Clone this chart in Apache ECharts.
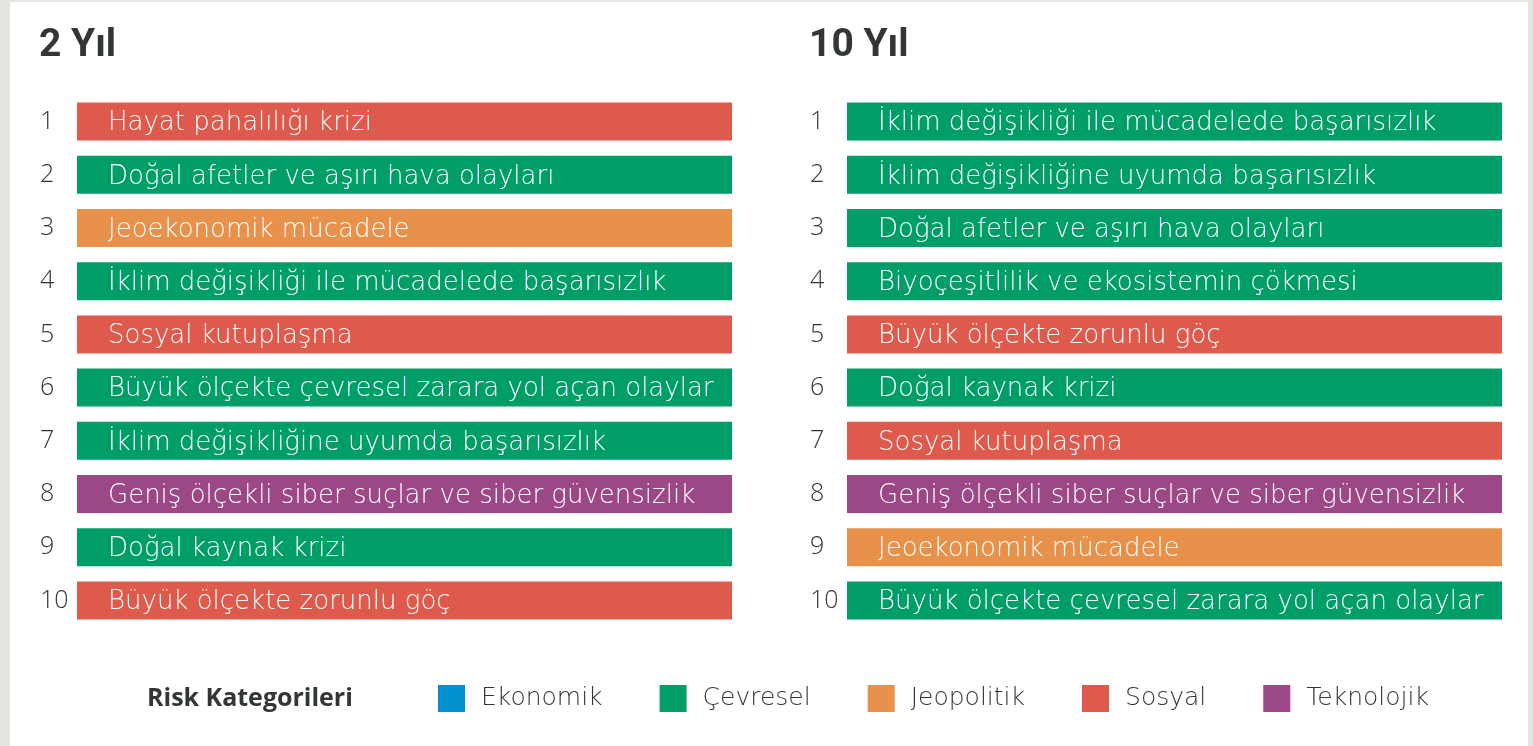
<!DOCTYPE html>
<html>
<head>
<meta charset="utf-8">
<script src="https://cdn.jsdelivr.net/npm/echarts@6/dist/echarts.min.js"></script>
<style>
  html, body { margin: 0; padding: 0; background: #e3e5e0; }
  #chart { width: 1533px; height: 746px; }
</style>
</head>
<body>
<div id="chart"></div>
<script>
const CATEGORIES = ['Ekonomik', 'Çevresel', 'Jeopolitik', 'Sosyal', 'Teknolojik'];
const CATEGORY_COLORS = ['#0090cd', '#009e67', '#e8914b', '#dd5a4c', '#9c4886'];

const RANKS = ['1', '2', '3', '4', '5', '6', '7', '8', '9', '10'];

const RISKS_2Y = [
  'Hayat pahalılığı krizi',
  'Doğal afetler ve aşırı hava olayları',
  'Jeoekonomik mücadele',
  'İklim değişikliği ile mücadelede başarısızlık',
  'Sosyal kutuplaşma',
  'Büyük ölçekte çevresel zarara yol açan olaylar',
  'İklim değişikliğine uyumda başarısızlık',
  'Geniş ölçekli siber suçlar ve siber güvensizlik',
  'Doğal kaynak krizi',
  'Büyük ölçekte zorunlu göç',
];
const CATS_2Y = ['Sosyal', 'Çevresel', 'Jeopolitik', 'Çevresel', 'Sosyal',
  'Çevresel', 'Çevresel', 'Teknolojik', 'Çevresel', 'Sosyal'];

const RISKS_10Y = [
  'İklim değişikliği ile mücadelede başarısızlık',
  'İklim değişikliğine uyumda başarısızlık',
  'Doğal afetler ve aşırı hava olayları',
  'Biyoçeşitlilik ve ekosistemin çökmesi',
  'Büyük ölçekte zorunlu göç',
  'Doğal kaynak krizi',
  'Sosyal kutuplaşma',
  'Geniş ölçekli siber suçlar ve siber güvensizlik',
  'Jeoekonomik mücadele',
  'Büyük ölçekte çevresel zarara yol açan olaylar',
];
const CATS_10Y = ['Çevresel', 'Çevresel', 'Çevresel', 'Çevresel', 'Sosyal',
  'Çevresel', 'Sosyal', 'Teknolojik', 'Jeopolitik', 'Çevresel'];

const FONT = '"Open Sans", sans-serif';
const BOLD_FONT = 'Roboto, sans-serif';
const LIGHT_FONT = '"DejaVu Sans", sans-serif';
const TEXT = '#333636';

const colorOf = (cat) => CATEGORY_COLORS[CATEGORIES.indexOf(cat)];

function rankSeries(idx, labels, cats) {
  return {
    type: 'bar',
    xAxisIndex: idx,
    yAxisIndex: idx,
    barWidth: 38,
    silent: true,
    data: cats.map(c => ({ value: 1, itemStyle: { color: colorOf(c) } })),
    label: {
      show: true,
      position: 'insideLeft',
      distance: 31,
      offset: [0, 2],
      color: '#fff',
      fontFamily: LIGHT_FONT,
      fontWeight: 200,
      fontSize: 26,
      formatter: p => labels[p.dataIndex],
    },
  };
}

const chart = echarts.init(document.getElementById('chart'));

const option = {
  animation: false,
  graphic: [{
    type: 'rect', z: -10,
    shape: { x: 10, y: 2, width: 1518, height: 746 },
    style: { fill: '#ffffff' },
  }],
  title: [
    { text: '2 Yıl', left: 39, top: 27, padding: 0, textStyle: { fontFamily: BOLD_FONT, fontSize: 39, fontWeight: 'bold', color: TEXT } },
    { text: '10 Yıl', left: 809, top: 27, padding: 0, textStyle: { fontFamily: BOLD_FONT, fontSize: 39, fontWeight: 'bold', color: TEXT } },
    { text: 'Risk Kategorileri', left: 147, top: 686, padding: 0, textStyle: { fontFamily: FONT, fontSize: 25, fontWeight: 'bold', color: TEXT } },
  ],
  legend: {
    left: 438,
    top: 685,
    padding: 0,
    icon: 'rect',
    itemWidth: 27,
    itemHeight: 27,
    itemGap: 57,
    data: CATEGORIES,
    textStyle: { fontFamily: LIGHT_FONT, fontSize: 25, fontWeight: 200, color: TEXT, padding: [3, 0, 0, 11] },
  },
  grid: [
    { left: 77, width: 655, top: 95, height: 532 },
    { left: 847, width: 655, top: 95, height: 532 },
  ],
  xAxis: [0, 1].map(i => ({
    gridIndex: i, type: 'value', min: 0, max: 1, show: false,
  })),
  yAxis: [0, 1].map(i => ({
    gridIndex: i,
    type: 'category',
    inverse: true,
    data: RANKS,
    axisLine: { show: false },
    axisTick: { show: false },
    axisLabel: {
      align: 'left',
      margin: 37,
      fontFamily: FONT,
      fontWeight: 300,
      fontSize: 25,
      color: TEXT,
    },
  })),
  series: [
    rankSeries(0, RISKS_2Y, CATS_2Y),
    rankSeries(1, RISKS_10Y, CATS_10Y),
    ...CATEGORIES.map((c, i) => ({
      name: c, type: 'scatter', xAxisIndex: 0, yAxisIndex: 0,
      data: [], itemStyle: { color: CATEGORY_COLORS[i], opacity: 1 },
    })),
  ],
};

chart.setOption(option);
</script>
</body>
</html>
